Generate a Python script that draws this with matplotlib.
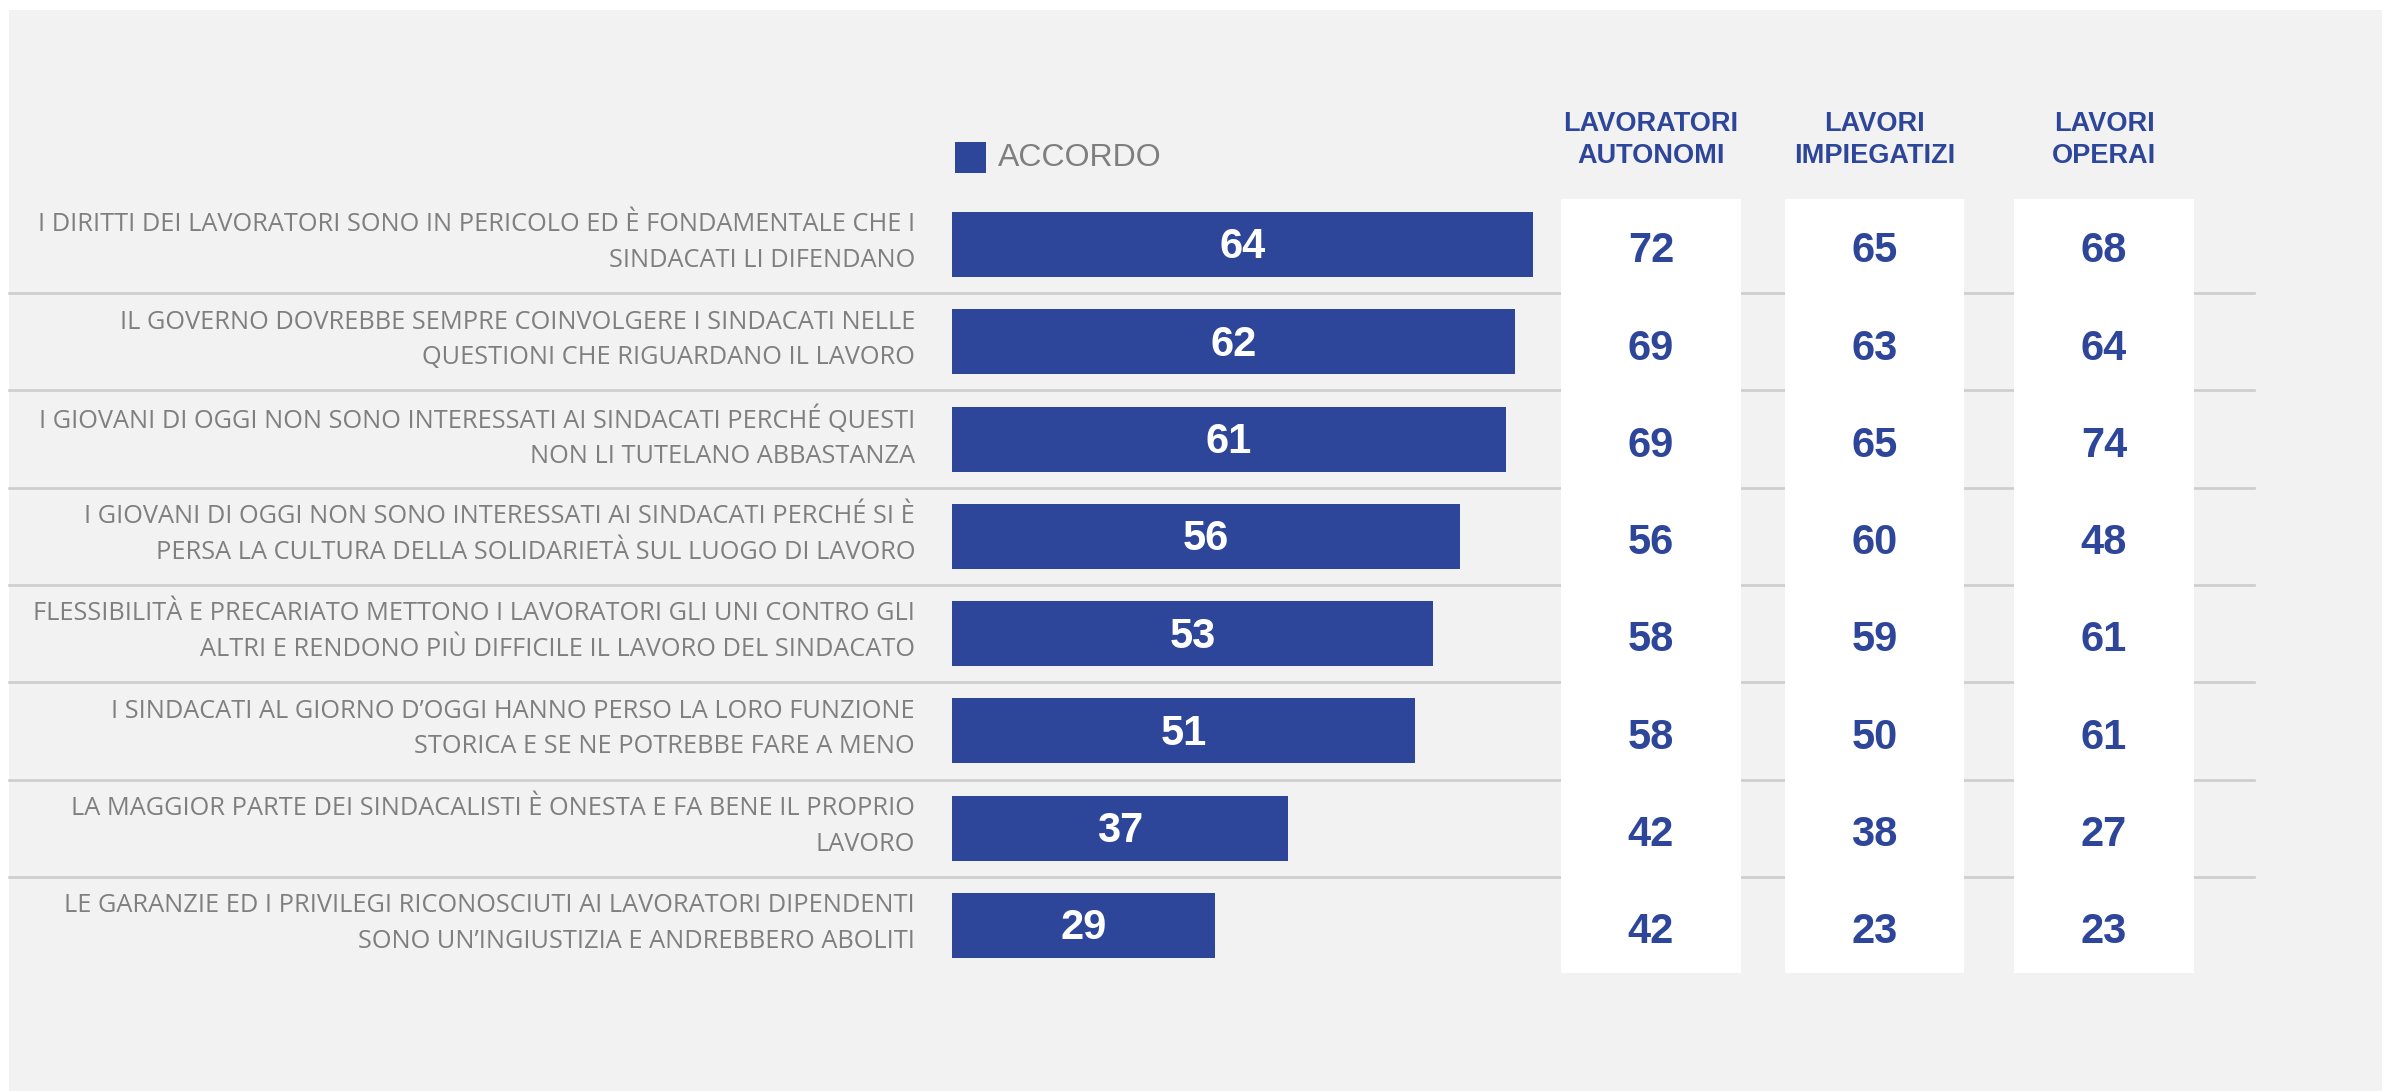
#!/usr/bin/env python3
"""
Accordo con le affermazioni sui sindacati, totale e per tipo di lavoro
"""

import matplotlib
matplotlib.use('Agg')
import matplotlib.pyplot as plt
from matplotlib.patches import Rectangle
from matplotlib.lines import Line2D

# dati
affermazioni = [
    'I DIRITTI DEI LAVORATORI SONO IN PERICOLO ED È FONDAMENTALE CHE I\nSINDACATI LI DIFENDANO',
    'IL GOVERNO DOVREBBE SEMPRE COINVOLGERE I SINDACATI NELLE\nQUESTIONI CHE RIGUARDANO IL LAVORO',
    'I GIOVANI DI OGGI NON SONO INTERESSATI AI SINDACATI PERCHÉ QUESTI\nNON LI TUTELANO ABBASTANZA',
    'I GIOVANI DI OGGI NON SONO INTERESSATI AI SINDACATI PERCHÉ SI È\nPERSA LA CULTURA DELLA SOLIDARIETÀ SUL LUOGO DI LAVORO',
    'FLESSIBILITÀ E PRECARIATO METTONO I LAVORATORI GLI UNI CONTRO GLI\nALTRI E RENDONO PIÙ DIFFICILE IL LAVORO DEL SINDACATO',
    'I SINDACATI AL GIORNO D\u2019OGGI HANNO PERSO LA LORO FUNZIONE\nSTORICA E SE NE POTREBBE FARE A MENO',
    'LA MAGGIOR PARTE DEI SINDACALISTI È ONESTA E FA BENE IL PROPRIO\nLAVORO',
    'LE GARANZIE ED I PRIVILEGI RICONOSCIUTI AI LAVORATORI DIPENDENTI\nSONO UN\u2019INGIUSTIZIA E ANDREBBERO ABOLITI',
]
accordo = [64, 62, 61, 56, 53, 51, 37, 29]
autonomi = [72, 69, 69, 56, 58, 58, 42, 42]
impiegatizi = [65, 63, 65, 60, 59, 50, 38, 23]
operai = [68, 64, 74, 48, 61, 61, 27, 23]

colonne = ['LAVORATORI\nAUTONOMI', 'LAVORI\nIMPIEGATIZI', 'LAVORI\nOPERAI']
legenda = 'ACCORDO'

BLU = '#2E4699'
GRIGIO_TESTO = '#7f7f7f'
SFONDO = '#f2f2f2'

# geometria in pixel (figura 2382x1091)
W, H = 2382, 1091
X0 = 952          # inizio barre
K = 9.08          # pixel per punto percentuale
Y0 = 244.5        # centro prima riga
PASSO = 97.29     # distanza tra le righe


def px_x(x):
    return (x - X0) / K


def px_y(y):
    return (y - Y0) / PASSO


def main():
    fig = plt.figure(figsize=(W / 100, H / 100), dpi=100)
    fig.patch.set_facecolor('white')

    ax = fig.add_axes([0, 0, 1, 1])
    ax.set_facecolor('none')
    ax.set_xlim(px_x(0), px_x(W))
    ax.set_ylim(px_y(H), px_y(0))
    ax.axis('off')

    # pannello grigio di sfondo
    ax.add_patch(Rectangle((9 / W, 0), 1 - 9 / W, (H - 10) / H,
                           transform=fig.transFigure, facecolor=SFONDO,
                           edgecolor='none', zorder=0))

    righe = list(range(len(accordo)))

    # linee di separazione tra le righe
    for i in righe[:-1]:
        ax.add_line(Line2D([px_x(9), px_x(2254)], [i + 0.5, i + 0.5],
                           color='#cdcdcd', lw=1.9, zorder=1))

    # barre
    bars = ax.barh(righe, accordo, height=65 / PASSO, color=BLU, zorder=3)
    for bar, val in zip(bars, accordo):
        ax.text(bar.get_x() + bar.get_width() / 2, bar.get_y() + bar.get_height() / 2 + 0.03,
                f'{val}', ha='center', va='center', color='white',
                fontsize=30, fontweight='bold', family='Liberation Sans', zorder=4)

    # etichette
    for i, lab in zip(righe, affermazioni):
        ax.text(px_x(915), i - 0.02, lab, ha='right', va='center', color=GRIGIO_TESTO,
                fontsize=18.3, family=['Open Sans', 'DejaVu Sans'], fontweight='normal',
                linespacing=1.55, zorder=4)

    # legenda
    ax.add_patch(Rectangle((px_x(955), px_y(142)), 31 / K, 31 / PASSO,
                           facecolor=BLU, edgecolor='none', zorder=3))
    ax.text(px_x(998), px_y(158), legenda, ha='left', va='center',
            color=GRIGIO_TESTO, fontsize=23, family='Liberation Sans', zorder=4)

    # colonne per tipo di lavoro
    col_x = [(1561, 1741), (1785, 1964), (2014, 2194)]
    for (xa, xb), titolo, valori in zip(col_x, colonne, [autonomi, impiegatizi, operai]):
        ax.add_patch(Rectangle((px_x(xa), px_y(199)), (xb - xa) / K, (973.5 - 199) / PASSO,
                               facecolor='white', edgecolor='none', zorder=2))
        xc = px_x((xa + xb) / 2)
        ax.text(xc, px_y(140), titolo, ha='center', va='center', color=BLU,
                fontsize=19.5, fontweight='bold', family='Liberation Sans',
                linespacing=1.3, zorder=4)
        for i, val in zip(righe, valori):
            ax.text(xc, i + 0.07, f'{val}', ha='center', va='center', color=BLU,
                    fontsize=30, fontweight='bold', family='Liberation Sans', zorder=4)

    plt.savefig('out.png', dpi=100)
    plt.close()


if __name__ == '__main__':
    main()
